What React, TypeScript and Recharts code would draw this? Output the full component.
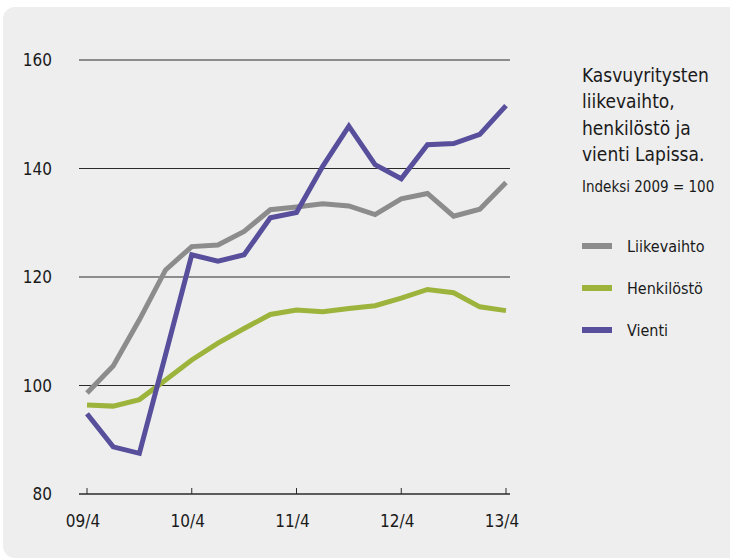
import React from 'react';
import { LineChart, Line, XAxis, YAxis, CartesianGrid, ReferenceLine } from 'recharts';

const quarters = ['09/4','10/1','10/2','10/3','10/4','11/1','11/2','11/3','11/4','12/1','12/2','12/3','12/4','13/1','13/2','13/3','13/4'];
const liikevaihto = [98.6,103.6,112.1,121.3,125.6,125.9,128.4,132.4,132.9,133.5,133.1,131.5,134.4,135.4,131.2,132.5,137.4];
const henkilosto = [96.4,96.2,97.4,101.0,104.7,107.8,110.5,113.1,113.9,113.6,114.2,114.7,116.1,117.7,117.1,114.5,113.8];
const vienti = [94.8,88.7,87.5,105.7,124.1,122.9,124.1,130.9,131.9,140.4,147.8,140.7,138.1,144.4,144.6,146.3,151.6];
const yTicks = [80, 100, 120, 140, 160];
const majorTicks = ['09/4','10/4','11/4','12/4','13/4'];
const titleLines = ['Kasvuyritysten', 'liikevaihto,', 'henkilöstö ja', 'vienti Lapissa.'];
const subtitle = 'Indeksi 2009 = 100';
const seriesNames = ['Liikevaihto', 'Henkilöstö', 'Vienti'];
const seriesColors = ['#8c8c8c', '#9cb43c', '#574f9b'];

const data = quarters.map((q, i) => ({
  q,
  [seriesNames[0]]: liikevaihto[i],
  [seriesNames[1]]: henkilosto[i],
  [seriesNames[2]]: vienti[i],
}));

const FONT = "'DejaVu Sans Condensed', 'DejaVu Sans', sans-serif";
const TEXT = '#1a1a1a';

function LegendBlock() {
  return (
    <div style={{ position: 'absolute', left: 582, top: 62, width: 148, fontFamily: FONT, color: TEXT }}>
      <div style={{ fontSize: 19, lineHeight: '26.3px', whiteSpace: 'nowrap' }}>
        {titleLines.map((t) => (
          <div key={t}>{t}</div>
        ))}
      </div>
      <div style={{ position: 'absolute', top: 114.5, left: 0, fontSize: 15, lineHeight: '20px', whiteSpace: 'nowrap' }}>{subtitle}</div>
      {seriesNames.map((name, i) => (
        <div
          key={name}
          style={{ position: 'absolute', left: 0, top: 163 + i * 42, height: 42, display: 'flex', alignItems: 'center', whiteSpace: 'nowrap' }}
        >
          <div style={{ width: 30, height: 6, background: seriesColors[i], marginRight: 15 }} />
          <div style={{ fontSize: 16, lineHeight: '20px', position: 'relative', top: 1 }}>{name}</div>
        </div>
      ))}
    </div>
  );
}

export default function App() {
  return (
    <div style={{ position: 'absolute', left: 0, top: 0, width: 730, height: 560, background: '#ffffff', overflow: 'hidden' }}>
      <div style={{ position: 'absolute', left: 3, top: 7, width: 760, height: 551, borderRadius: 12, background: '#eeeeee' }} />
      <div style={{ position: 'absolute', left: 0, top: 0 }}>
        <LineChart width={730} height={560} data={data} margin={{ top: 60, right: 220, bottom: 0, left: 0 }}>
          <CartesianGrid horizontal vertical={false} stroke="#2a2a2a" strokeWidth={1} />
          <XAxis
            dataKey="q"
            type="category"
            scale="point"
            padding={{ left: 8, right: 4 }}
            height={66}
            interval={3}
            axisLine={false}
            tickLine={false}
            tickSize={0}
            tickMargin={21}
            tick={{ fontSize: 17, fill: TEXT, fontFamily: FONT, dx: -4 }}
          />
          <YAxis
            type="number"
            domain={[80, 160]}
            ticks={yTicks}
            width={79}
            axisLine={false}
            tickLine={false}
            tickSize={0}
            tickMargin={27}
            tick={{ fontSize: 17, fill: TEXT, fontFamily: FONT }}
          />
          <ReferenceLine y={80} stroke="#2a2a2a" strokeWidth={1} />
          {majorTicks.map((t) => (
            <ReferenceLine key={t} segment={[{ x: t, y: 80 }, { x: t, y: 81.1 }]} stroke="#2a2a2a" strokeWidth={1} />
          ))}
          {seriesNames.map((name, i) => (
            <Line
              key={name}
              type="linear"
              dataKey={name}
              stroke={seriesColors[i]}
              strokeWidth={5}
              dot={false}
              isAnimationActive={false}
              strokeLinejoin="miter"
            />
          ))}
        </LineChart>
      </div>
      <LegendBlock />
    </div>
  );
}
